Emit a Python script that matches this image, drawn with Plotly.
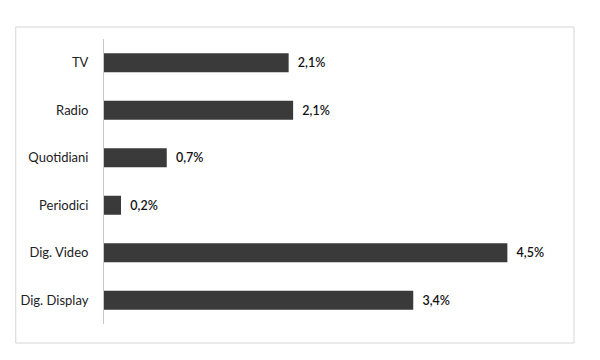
import plotly.graph_objects as go

categories = ["TV", "Radio", "Quotidiani", "Periodici", "Dig. Video", "Dig. Display"]
values = [2.06, 2.11, 0.70, 0.19, 4.5, 3.45]
value_labels = ["2,1%", "2,1%", "0,7%", "0,2%", "4,5%", "3,4%"]

# page body has an 8px margin, so work in reference coords minus 8
OFF = 8
W, H = 600 - OFF, 360 - OFF
L = 100 - OFF
T = 39 - OFF
R = W - (574 - OFF)
B = H - (324 - OFF)
pw, ph = W - L - R, H - T - B
px_per_unit = 90.4

fig = go.Figure(go.Bar(
    x=values, y=categories, orientation="h",
    marker=dict(color="#3a3a3a", line=dict(width=0)),
    text=value_labels, textposition="outside",
    texttemplate="  %{text}",
    textfont=dict(family="Lato", size=12.5, color="#111111", weight=600),
    cliponaxis=False,
))

def px_x(x):
    return (x - OFF - L) / pw

def px_y(y):
    return (H - B - (y - OFF)) / ph

fig.update_layout(
    width=W, height=H,
    margin=dict(l=L, r=R, t=T, b=B),
    paper_bgcolor="white", plot_bgcolor="white",
    bargap=0.6,
    showlegend=False,
    font=dict(family="Lato", size=13, color="#333333"),
    xaxis=dict(range=[0, pw / px_per_unit], visible=False, showgrid=False, zeroline=False),
    yaxis=dict(autorange="reversed", showline=True, linecolor="#c8c8c8", linewidth=1,
               showgrid=False, ticks="", ticklabelstandoff=12,
               tickfont=dict(family="Lato", size=13, color="#222222")),
    shapes=[dict(type="rect", xref="paper", yref="paper",
                 x0=px_x(11), x1=px_x(574), y0=px_y(343), y1=px_y(27),
                 line=dict(color="#d6d6d6", width=1), fillcolor="rgba(0,0,0,0)", layer="below")],
)

fig.write_html("out.html")
